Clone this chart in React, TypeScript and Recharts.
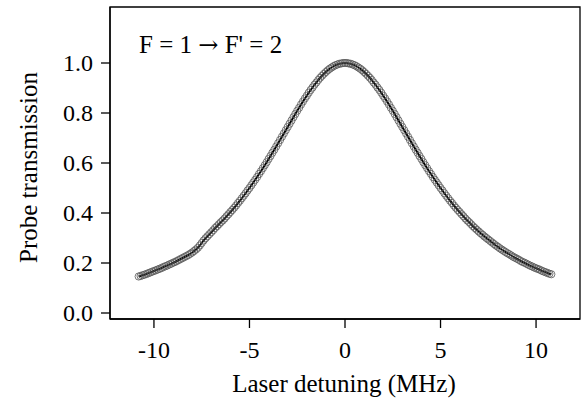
import React from 'react';
import { ComposedChart, Line, XAxis, YAxis, ReferenceArea, Customized } from 'recharts';

// Laser detuning grid (MHz): first point and spacing of the measured points
const detuningStart = -10.8;
const detuningStep = 0.1;

// Probe transmission, detuning -10.8 ... -0.1 MHz
const transmissionNeg = [
  0.146, 0.148, 0.151, 0.153, 0.156, 0.159, 0.162, 0.165, 0.168, 0.171,
  0.174, 0.177, 0.180, 0.184, 0.187, 0.190, 0.194, 0.197, 0.201, 0.204,
  0.208, 0.212, 0.216, 0.220, 0.224, 0.228, 0.232, 0.237, 0.242, 0.248,
  0.254, 0.261, 0.270, 0.280, 0.290, 0.299, 0.307, 0.315, 0.323, 0.331,
  0.340, 0.347, 0.355, 0.363, 0.370, 0.378, 0.387, 0.395, 0.404, 0.412,
  0.421, 0.430, 0.440, 0.449, 0.459, 0.469, 0.479, 0.490, 0.500, 0.511,
  0.522, 0.533, 0.544, 0.556, 0.567, 0.579, 0.591, 0.603, 0.616, 0.628,
  0.641, 0.653, 0.666, 0.679, 0.692, 0.705, 0.718, 0.731, 0.744, 0.757,
  0.770, 0.783, 0.796, 0.809, 0.821, 0.834, 0.846, 0.858, 0.869, 0.881,
  0.892, 0.902, 0.913, 0.922, 0.932, 0.941, 0.949, 0.957, 0.964, 0.971,
  0.977, 0.982, 0.987, 0.991, 0.994, 0.997, 0.998, 1.000,
];

// Probe transmission, detuning 0 ... 10.8 MHz
const transmissionPos = [
  1.000, 1.000, 0.998, 0.997, 0.994, 0.991, 0.987, 0.982, 0.977, 0.971,
  0.964, 0.957, 0.949, 0.941, 0.932, 0.922, 0.913, 0.902, 0.892, 0.881,
  0.869, 0.858, 0.846, 0.834, 0.821, 0.809, 0.796, 0.783, 0.770, 0.757,
  0.744, 0.731, 0.718, 0.705, 0.692, 0.679, 0.666, 0.653, 0.641, 0.628,
  0.616, 0.603, 0.591, 0.579, 0.567, 0.556, 0.544, 0.533, 0.522, 0.511,
  0.500, 0.490, 0.479, 0.469, 0.459, 0.449, 0.440, 0.430, 0.421, 0.412,
  0.404, 0.395, 0.387, 0.378, 0.370, 0.363, 0.355, 0.347, 0.340, 0.333,
  0.326, 0.319, 0.313, 0.306, 0.300, 0.294, 0.288, 0.282, 0.276, 0.270,
  0.265, 0.259, 0.254, 0.249, 0.244, 0.239, 0.235, 0.230, 0.225, 0.221,
  0.217, 0.213, 0.208, 0.204, 0.201, 0.197, 0.193, 0.189, 0.186, 0.182,
  0.179, 0.176, 0.173, 0.169, 0.166, 0.163, 0.160, 0.157, 0.155,
];

const xTicks = [-10, -5, 0, 5, 10];
const yTicks = [0, 0.2, 0.4, 0.6, 0.8, 1.0];
const xDomain = [-12.3, 12.3];
const yDomain = [-0.024, 1.224];

const xTitle = 'Laser detuning (MHz)';
const yTitle = 'Probe transmission';
const annotationLeft = 'F = 1 ';
const annotationArrow = '\u2192';
const annotationRight = ' F\' = 2';

const FONT = 'Liberation Serif';

const data = [...transmissionNeg, ...transmissionPos].map((t, i) => ({
  x: Math.round((detuningStart + i * detuningStep) * 10) / 10,
  t,
}));

const XTick = (props: any) => {
  const { x, y, payload } = props;
  return (
    <text x={x} y={y + 16} textAnchor="middle" fill="#000" style={{ fontFamily: FONT, fontSize: 24 }}>
      {String(payload.value)}
    </text>
  );
};

const YTick = (props: any) => {
  const { x, y, payload } = props;
  return (
    <text x={x} y={y + 8} textAnchor="end" fill="#000" style={{ fontFamily: FONT, fontSize: 24 }}>
      {Number(payload.value).toFixed(1)}
    </text>
  );
};

const Texts = () => (
  <g fill="#000">
    <text x={344} y={391.5} textAnchor="middle" style={{ fontFamily: FONT, fontSize: 25 }}>{xTitle}</text>
    <text
      x={36.5}
      y={167.5}
      textAnchor="middle"
      transform="rotate(-90 36.5 167.5)"
      style={{ fontFamily: FONT, fontSize: 25 }}
    >
      {yTitle}
    </text>
    <text x={139} y={53} textAnchor="start" style={{ fontFamily: FONT, fontSize: 25, whiteSpace: 'pre' }}>
      {annotationLeft}
      <tspan style={{ fontFamily: 'DejaVu Serif', fontSize: 24 }}>{annotationArrow}</tspan>
      {annotationRight}
    </text>
  </g>
);

export default function App() {
  return (
    <div style={{ position: 'absolute', left: 0, top: 0, width: 581, height: 399, background: '#fff', fontFamily: FONT }}>
      <ComposedChart width={581} height={399} data={data} margin={{ top: 7, right: 1, bottom: 0, left: 0 }}>
        <XAxis
          type="number"
          dataKey="x"
          domain={xDomain}
          ticks={xTicks}
          allowDataOverflow
          height={80}
          tickSize={9}
          tickMargin={14}
          axisLine={{ stroke: '#000', strokeWidth: 1.3 }}
          tickLine={{ stroke: '#000', strokeWidth: 1.3 }}
          tick={<XTick />}
        />
        <YAxis
          type="number"
          domain={yDomain}
          ticks={yTicks}
          allowDataOverflow
          width={110}
          tickSize={9}
          tickMargin={8}
          axisLine={{ stroke: '#000', strokeWidth: 1.3 }}
          tickLine={{ stroke: '#000', strokeWidth: 1.3 }}
          tick={<YTick />}
        />
        <ReferenceArea
          x1={xDomain[0]}
          x2={xDomain[1]}
          y1={yDomain[0]}
          y2={yDomain[1]}
          fill="none"
          fillOpacity={0}
          stroke="#000"
          strokeWidth={1.3}
        />
        <Line
          type="linear"
          dataKey="t"
          stroke="none"
          strokeWidth={0}
          dot={{ r: 3.6, fill: 'none', stroke: '#555', strokeWidth: 0.8 }}
          activeDot={false}
          isAnimationActive={false}
        />
        <Line
          type="linear"
          dataKey="t"
          stroke="#000"
          strokeWidth={2}
          dot={false}
          activeDot={false}
          isAnimationActive={false}
        />
        <Customized component={Texts} />
      </ComposedChart>
    </div>
  );
}
